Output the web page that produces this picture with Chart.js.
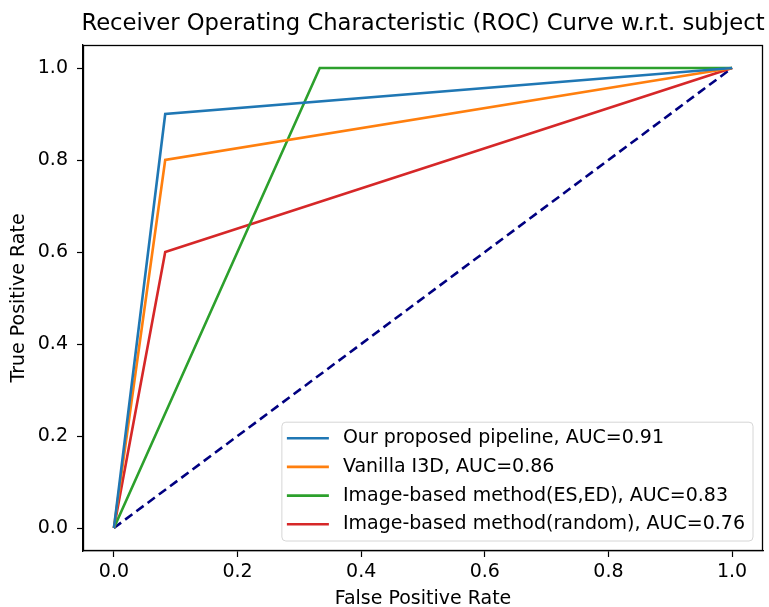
<!DOCTYPE html>
<html>
<head>
<meta charset="utf-8">
<script src="https://cdn.jsdelivr.net/npm/chart.js@4/dist/chart.umd.min.js"></script>
<style>
html,body{margin:0;padding:0;background:#fff;}
#wrap{width:769px;height:607px;}
</style>
</head>
<body>
<div id="wrap"><canvas id="c" width="769" height="607"></canvas></div>
<script>
const chartTitle = "Receiver Operating Characteristic (ROC) Curve w.r.t. subject";
const xLabel = "False Positive Rate";
const yLabel = "True Positive Rate";
const tickValues = [0, 0.2, 0.4, 0.6, 0.8, 1.0];

const seriesLabels = [
  "Our proposed pipeline, AUC=0.91",
  "Vanilla I3D, AUC=0.86",
  "Image-based method(ES,ED), AUC=0.83",
  "Image-based method(random), AUC=0.76"
];
const fprPipeline = [0, 0.083, 1];
const tprPipeline = [0, 0.9, 1];
const fprI3D = [0, 0.083, 1];
const tprI3D = [0, 0.8, 1];
const fprESED = [0, 0.333, 1];
const tprESED = [0, 1.0, 1];
const fprRandom = [0, 0.083, 1];
const tprRandom = [0, 0.6, 1];
const fprChance = [0, 1];
const tprChance = [0, 1];

const colors = ["#1f77b4", "#ff7f0e", "#2ca02c", "#d62728"];
const FONT = "'DejaVu Sans', sans-serif";
const FS = 19;

function pts(xs, ys) { return xs.map((x, i) => ({x: x, y: ys[i]})); }

const seriesData = [
  pts(fprPipeline, tprPipeline),
  pts(fprI3D, tprI3D),
  pts(fprESED, tprESED),
  pts(fprRandom, tprRandom)
];

const datasets = seriesData.map((d, i) => ({
  label: seriesLabels[i],
  data: d,
  showLine: true,
  borderColor: colors[i],
  backgroundColor: colors[i],
  borderWidth: 2.6,
  pointRadius: 0,
  fill: false,
  tension: 0,
  inLegend: true
}));
datasets.push({
  label: "chance",
  data: pts(fprChance, tprChance),
  showLine: true,
  borderColor: "#000080",
  borderWidth: 2.6,
  borderDash: [9, 5],
  pointRadius: 0,
  fill: false,
  inLegend: false
});

const framePlugin = {
  id: 'frame',
  afterDraw(chart) {
    const ctx = chart.ctx;
    const a = chart.chartArea;
    ctx.save();
    ctx.strokeStyle = '#000';
    ctx.lineWidth = 1.3;
    ctx.strokeRect(Math.round(a.left) + 0.5, Math.round(a.top) + 0.5, Math.round(a.right - a.left) - 1, Math.round(a.bottom - a.top) - 1);
    ctx.fillStyle = '#000';
    ctx.font = "22.7px " + FONT;
    ctx.textAlign = 'center';
    ctx.textBaseline = 'middle';
    ctx.fillText(chartTitle, (a.left + a.right) / 2, 24);
    const items = chart.data.datasets.filter(d => d.inLegend);
    ctx.font = FS + "px " + FONT;
    let maxW = 0;
    items.forEach(d => { maxW = Math.max(maxW, ctx.measureText(d.label).width); });
    const rowH = 28.7;
    const padL = 5, lineLen = 42, gap = 14, padR = 8;
    const boxW = padL + lineLen + gap + maxW + padR;
    const boxH = rowH * items.length + 4;
    const bx = a.right - 10 - boxW;
    const by = a.bottom - 10 - boxH;
    ctx.beginPath();
    const r = 4;
    ctx.moveTo(bx + r, by);
    ctx.arcTo(bx + boxW, by, bx + boxW, by + boxH, r);
    ctx.arcTo(bx + boxW, by + boxH, bx, by + boxH, r);
    ctx.arcTo(bx, by + boxH, bx, by, r);
    ctx.arcTo(bx, by, bx + boxW, by, r);
    ctx.closePath();
    ctx.fillStyle = 'rgba(255,255,255,0.8)';
    ctx.fill();
    ctx.strokeStyle = '#d6d6d6';
    ctx.lineWidth = 1;
    ctx.stroke();
    items.forEach((d, i) => {
      const cy = by + 16 + i * rowH;
      ctx.strokeStyle = d.borderColor;
      ctx.lineWidth = 2.6;
      ctx.setLineDash([]);
      ctx.beginPath();
      ctx.moveTo(bx + padL, cy);
      ctx.lineTo(bx + padL + lineLen, cy);
      ctx.stroke();
      ctx.fillStyle = '#000';
      ctx.textAlign = 'left';
      ctx.textBaseline = 'middle';
      ctx.fillText(d.label, bx + padL + lineLen + gap, cy);
    });
    ctx.restore();
  }
};

new Chart(document.getElementById('c'), {
  type: 'scatter',
  data: { datasets: datasets },
  options: {
    responsive: false,
    animation: false,
    layout: { padding: { top: 45, right: 6, left: 0, bottom: 0 } },
    plugins: { legend: { display: false }, title: { display: false }, tooltip: { enabled: false } },
    scales: {
      x: {
        type: 'linear',
        min: -0.05, max: 1.05,
        afterBuildTicks(s) { s.ticks = tickValues.map(v => ({value: v})); },
        afterFit(s) { s.height = 56; },
        grid: { drawOnChartArea: false, drawTicks: true, tickLength: 6, color: '#000', tickWidth: 1.2 },
        border: { display: true, color: '#000', width: 1.3 },
        ticks: { color: '#000', font: { family: FONT, size: FS }, padding: 4, maxRotation: 0,
                 callback: v => Number(v).toFixed(1) },
        title: { display: true, text: xLabel, color: '#000', font: { family: FONT, size: FS, lineHeight: 1.2 }, padding: { top: 0, bottom: -3 } }
      },
      y: {
        type: 'linear',
        min: -0.05, max: 1.05,
        afterBuildTicks(s) { s.ticks = tickValues.map(v => ({value: v})); },
        afterFit(s) { s.width = 83; },
        grid: { drawOnChartArea: false, drawTicks: true, tickLength: 6, color: '#000', tickWidth: 1.2 },
        border: { display: true, color: '#000', width: 1.3 },
        ticks: { color: '#000', font: { family: FONT, size: FS }, padding: 9,
                 callback: v => Number(v).toFixed(1) },
        title: { display: true, text: yLabel, color: '#000', font: { family: FONT, size: FS, lineHeight: 1.2 }, padding: { top: 8, bottom: 0 } }
      }
    }
  },
  plugins: [framePlugin]
});
</script>
</body>
</html>
